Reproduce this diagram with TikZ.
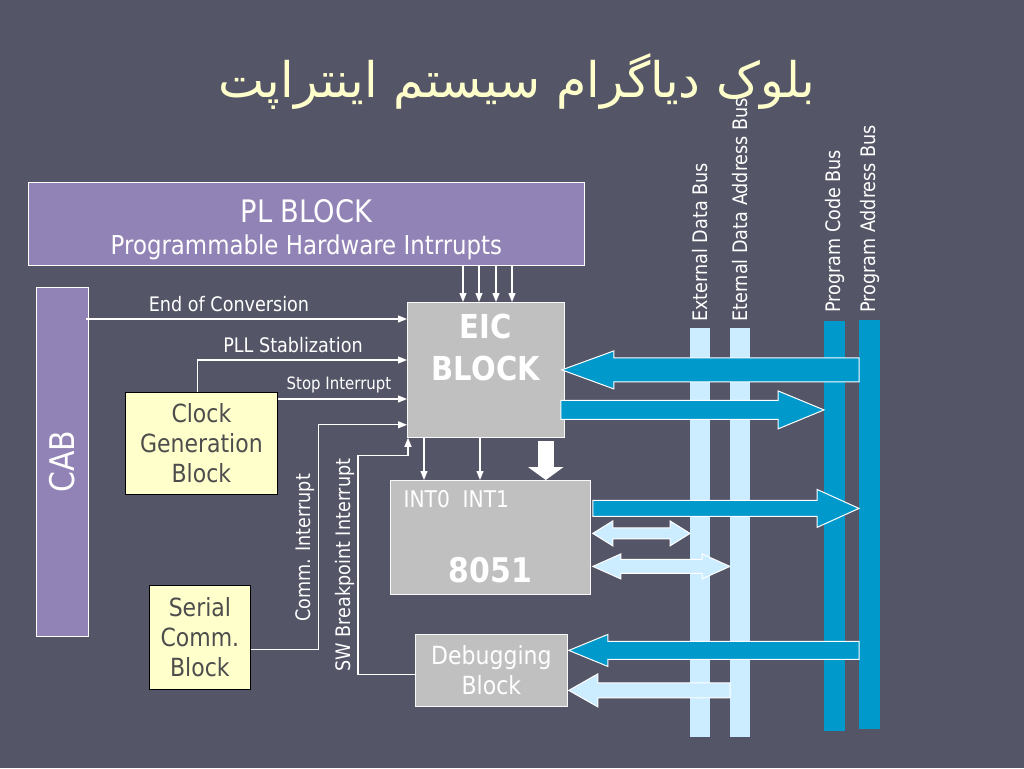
\documentclass[tikz,border=0pt]{standalone}
\usepackage{fontspec}
\setmainfont{DejaVu Sans}[FakeStretch=0.88]
\newfontfamily\arabicfont[Script=Arabic]{DejaVu Sans}
\TeXXeTstate=1
\usetikzlibrary{arrows.meta,positioning,calc}

\definecolor{bgslate}{RGB}{84,85,102}
\definecolor{plpurple}{RGB}{145,131,181}
\definecolor{boxgrey}{RGB}{192,192,192}
\definecolor{paleyellow}{RGB}{255,255,204}
\definecolor{darkbus}{RGB}{0,153,204}
\definecolor{lightbus}{RGB}{204,236,255}
\definecolor{clocktext}{RGB}{77,77,77}

% horizontal block arrow: style, from, to, half shaft, half head, head length
\newcommand{\blkarrow}[6]{%
  \path[#1] let \p1=#2, \p2=#3, \n1={ifthenelse(\x2>\x1,1,-1)} in
    ({\x1},{\y2-#4}) -- ({\x2-\n1*#6},{\y2-#4}) -- ({\x2-\n1*#6},{\y2-#5})
    -- ({\x2},{\y2}) -- ({\x2-\n1*#6},{\y2+#5}) -- ({\x2-\n1*#6},{\y2+#4})
    -- ({\x1},{\y2+#4}) -- cycle;}
% same, with a head at both ends
\newcommand{\dblarrow}[6]{%
  \path[#1] let \p1=#2, \p2=#3, \n1={ifthenelse(\x2>\x1,1,-1)} in
    ({\x1},{\y2}) -- ({\x1+\n1*#6},{\y2+#5}) -- ({\x1+\n1*#6},{\y2+#4})
    -- ({\x2-\n1*#6},{\y2+#4}) -- ({\x2-\n1*#6},{\y2+#5}) -- ({\x2},{\y2})
    -- ({\x2-\n1*#6},{\y2-#5}) -- ({\x2-\n1*#6},{\y2-#4})
    -- ({\x1+\n1*#6},{\y2-#4}) -- ({\x1+\n1*#6},{\y2-#5}) -- cycle;}

\begin{document}
\begin{tikzpicture}[x=1pt,y=-1pt,
    dims/.style 2 args={minimum width=#1pt,minimum height=#2pt},
    plbox/.style={draw=white,line width=0.8pt,fill=plpurple,inner sep=0pt,anchor=north west,text=white},
    greybox/.style={draw=white!90!boxgrey,line width=0.8pt,fill=boxgrey,inner sep=0pt,anchor=north west,text=white},
    yelbox/.style={draw=black,line width=0.8pt,fill=paleyellow,inner sep=0pt,anchor=north west,text=clocktext,
      align=center,font=\fontsize{25}{30}\selectfont},
    bus/.style={inner sep=0pt,anchor=north west,draw=none},
    buslbl/.style={rotate=90,anchor=west,inner sep=0pt,text=white,font=\fontsize{20}{22}\selectfont},
    sigtxt/.style={text=white,inner sep=0pt,font=\fontsize{20}{22}\selectfont},
    sig/.style={draw=white,line width=1.1pt,-{Triangle[length=9pt,width=7pt]}},
    darkarr/.style={fill=darkbus,draw=white,line width=1pt},
    lightarr/.style={fill=lightbus,draw=white,line width=1pt},
    bigwhite/.style={draw=white,line width=16pt,-{Triangle[length=13pt,width=35pt]}}
  ]
  \useasboundingbox (0,0) rectangle (1024,768);
  \fill[bgslate] (0,0) rectangle (1024,768);

  % title
  \node[anchor=base,text=paleyellow,font=\fontsize{49}{52}\selectfont] (title) at (517,97)
    {\arabicfont\beginR بلوک دیاگرام سیستم اینتراپت\endR};

  % blocks
  \node[plbox,dims={556}{83},
    label={[anchor=base,yshift=13pt,text=white,font=\fontsize{31}{34}\selectfont]center:PL BLOCK},
    label={[anchor=base,yshift=-23pt,text=white,font=\fontsize{26}{27}\selectfont]center:Programmable Hardware Intrrupts}]
    (pl) at (28,182) {};
  \node[plbox,dims={52}{349}] (cab) at (36,287) {};
  \node[rotate=90,text=white,font=\fontsize{34}{36}\selectfont] (cabtxt) at (cab) {CAB};

  \node[greybox,dims={157}{135},
    label={[anchor=north,yshift=-8pt,align=center,text=white,font=\bfseries\fontsize{33}{42}\selectfont]north:EIC\\BLOCK}]
    (eic) at (407,302) {};
  \node[greybox,dims={200}{114},
    label={[anchor=north west,xshift=10pt,yshift=-7pt,text=white,font=\fontsize{23}{25}\selectfont]north west:INT0\ \ INT1},
    label={[anchor=south,yshift=8pt,text=white,font=\bfseries\fontsize{34}{36}\selectfont]south:8051}]
    (cpu) at (390,480) {};
  \node[greybox,dims={152}{72},align=center,font=\fontsize{25}{30}\selectfont] (dbg) at (415,634) {Debugging\\Block};

  \node[yelbox,dims={152}{102}] (clk) at (125,392) {Clock\\Generation\\Block};
  \node[yelbox,dims={101}{104}] (ser) at (149,585) {Serial\\Comm.\\Block};

  % buses
  \node[bus,fill=lightbus,dims={20}{409}] (edb) at (690,328) {};
  \node[bus,fill=lightbus,dims={20}{409}] (eab) at (730,328) {};
  \node[bus,fill=darkbus,dims={21}{410}] (pcb) at (824,321) {};
  \node[bus,fill=darkbus,dims={21}{409}] (pab) at (859,320) {};
  \node[buslbl] (edbl) at ([yshift=6pt]edb.north) {External Data Bus};
  \node[buslbl] (eabl) at ([yshift=6pt]eab.north) {Eternal Data Address Bus};
  \node[buslbl] (pcbl) at ([yshift=8pt]pcb.north) {Program Code Bus};
  \node[buslbl] (pabl) at ([yshift=7pt]pab.north) {Program Address Bus};

  % PL interrupts into EIC
  \foreach \dx [count=\i] in {56,72,89,105} {
    \coordinate (hw\i) at ([xshift=\dx pt]eic.north west);
    \draw[sig] (hw\i |- pl.south) -- (hw\i);
  }

  % signals into EIC
  \coordinate (eoc) at ([yshift=-17pt]eic.north west);
  \draw[sig] ([xshift=-3pt]cab.east |- eoc) -- (eoc);
  \node[sigtxt] (eoct) at (229,304) {End of Conversion};

  \coordinate (pll) at ([yshift=-58pt]eic.north west);
  \draw[sig] ([xshift=-4pt]clk.north) |- (pll);
  \node[sigtxt] (pllt) at (293,345) {PLL Stablization};

  \coordinate (stp) at ([yshift=-7pt]clk.north east);
  \draw[sig] (stp) -- (stp -| eic.west);
  \node[sigtxt,font=\fontsize{17}{19}\selectfont] (stpt) at (339,385) {Stop Interrupt};

  \coordinate (cmi) at ([yshift=13pt]eic.south west);
  \draw[sig] ([yshift=-12pt]ser.east) -- ++(68,0) |- (cmi);
  \node[sigtxt,rotate=90] (cmit) at (305,548) {Comm. Interrupt};

  \coordinate (swi) at ([xshift=1pt]eic.south west);
  \draw[sig] ([yshift=-4pt]dbg.west) -- ++(-57,0) |- ([yshift=-18pt]swi) -- (swi);
  \node[sigtxt,rotate=90] (swit) at (345,565) {SW Breakpoint Interrupt};

  % EIC to 8051
  \foreach \dx [count=\i] in {17,73} {
    \coordinate (ei\i) at ([xshift=\dx pt]eic.south west);
    \draw[sig] (ei\i) -- (ei\i |- cpu.north);
  }
  \coordinate (wa) at ([xshift=-19pt,yshift=-3pt]eic.south east);
  \draw[bigwhite] (wa) -- (wa |- cpu.north);

  % bus arrows
  \blkarrow{darkarr}{(pab.west |- eic.east)}{([xshift=-3pt]eic.east)}{12pt}{19pt}{52pt}
  \coordinate (eicout) at ([xshift=-4pt,yshift=-40pt]eic.east);
  \blkarrow{darkarr}{(eicout)}{(pcb.west |- eicout)}{9.5pt}{19pt}{46pt}
  \coordinate (cpuout) at ([xshift=2pt,yshift=29pt]cpu.east);
  \blkarrow{darkarr}{(cpuout)}{(pab.west |- cpuout)}{8pt}{19pt}{42pt}
  \coordinate (cpud) at ([xshift=2pt,yshift=4pt]cpu.east);
  \dblarrow{lightarr}{(cpud)}{(edb.west |- cpud)}{5.5pt}{12.5pt}{20pt}
  \coordinate (cpua) at ([xshift=2pt,yshift=-29pt]cpu.east);
  \dblarrow{lightarr}{(cpua)}{(eab.west |- cpua)}{7pt}{12.5pt}{28pt}
  \coordinate (dbgc) at ([xshift=1pt,yshift=20pt]dbg.east);
  \blkarrow{darkarr}{(pab.west |- dbgc)}{(dbgc)}{9pt}{16pt}{39pt}
  \coordinate (dbga) at ([xshift=1pt,yshift=-20pt]dbg.east);
  \blkarrow{lightarr}{(eab.west |- dbga)}{(dbga)}{7.5pt}{16.5pt}{29pt}
\end{tikzpicture}
\end{document}
